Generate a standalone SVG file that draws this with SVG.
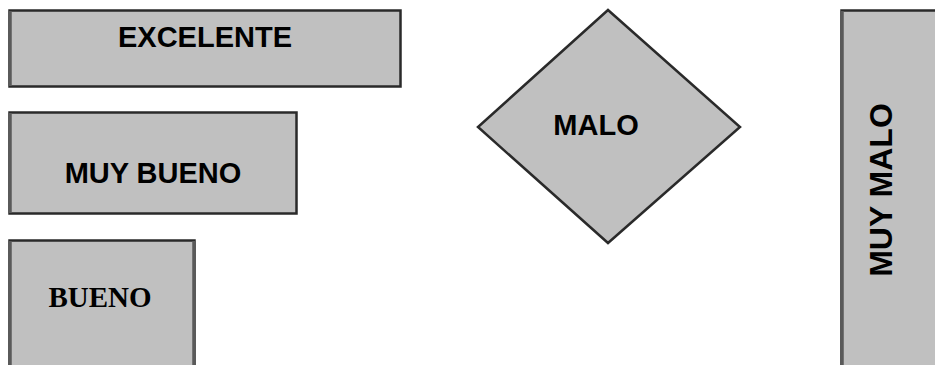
<svg xmlns="http://www.w3.org/2000/svg" width="935" height="365" viewBox="0 0 935 365">
<style>
.box{fill:#c0c0c0;stroke:#2a2a2a;stroke-width:2.5}
.edge{stroke:#5a5a5a;stroke-width:3.5}
.lbl{font-family:"Liberation Sans",Arial,sans-serif;font-weight:bold;font-size:29px;fill:#000;text-anchor:middle}
.serif{font-family:"Liberation Serif","Times New Roman",serif;font-weight:bold;font-size:29px;fill:#000;text-anchor:middle}
</style>
<rect width="935" height="365" fill="#fff"/>
<g id="excelente">
<rect class="box" x="9.5" y="10.5" width="391" height="76"/>
<line class="edge" x1="10" y1="11" x2="10" y2="86"/>
<text class="lbl" x="205" y="47">EXCELENTE</text>
</g>
<g id="muy-bueno">
<rect class="box" x="9.5" y="112.5" width="287" height="101"/>
<line class="edge" x1="10" y1="113" x2="10" y2="213"/>
<text class="lbl" x="153" y="183">MUY BUENO</text>
</g>
<g id="bueno">
<rect class="box" x="9.5" y="240.5" width="185" height="140"/>
<line class="edge" x1="10" y1="241" x2="10" y2="365"/>
<line class="edge" x1="194" y1="241" x2="194" y2="365"/>
<text class="serif" x="100" y="307">BUENO</text>
</g>
<g id="malo">
<polygon class="box" points="608,10 740,127 608,243 478,127"/>
<text class="lbl" x="596" y="135">MALO</text>
</g>
<g id="muy-malo">
<rect class="box" x="841.5" y="10.5" width="110" height="370"/>
<line class="edge" x1="842" y1="11" x2="842" y2="365"/>
<text class="lbl" style="font-size:32px" transform="translate(892,190) rotate(-90)">MUY MALO</text>
</g>
<g id="connectors"></g>
</svg>
